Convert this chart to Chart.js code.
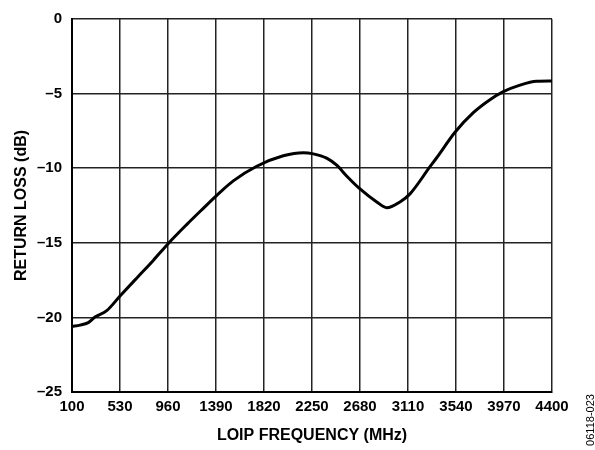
<!DOCTYPE html>
<html>
<head>
<meta charset="utf-8">
<script src="https://cdn.jsdelivr.net/npm/chart.js@4/dist/chart.umd.min.js"></script>
<style>
  html, body { margin: 0; padding: 0; background: #fff; }
  #wrap { width: 595px; height: 450px; }
</style>
</head>
<body>
<div id="wrap"><canvas id="rlChart" width="595" height="450"></canvas></div>
<script>
// LOIP return loss vs frequency
const freqMHz = [100, 172, 246, 306, 411, 530, 679, 828, 963, 1127, 1276, 1411, 1545, 1755, 1993, 2172, 2262, 2381, 2471, 2560, 2680, 2830, 2919, 3038, 3128, 3307, 3367, 3531, 3695, 3844, 3964, 4113, 4262, 4400];
const returnLoss = [-20.6, -20.52, -20.35, -19.98, -19.55, -18.57, -17.37, -16.18, -15.04, -13.78, -12.69, -11.72, -10.85, -9.87, -9.17, -8.96, -9.04, -9.33, -9.8, -10.52, -11.39, -12.26, -12.65, -12.26, -11.72, -9.9, -9.3, -7.59, -6.28, -5.41, -4.87, -4.43, -4.17, -4.15];
const xTicks = [100, 530, 960, 1390, 1820, 2250, 2680, 3110, 3540, 3970, 4400];
const yTicks = [-25, -20, -15, -10, -5, 0];

const FONT = '"Liberation Sans", Arial, sans-serif';
const ctx = document.getElementById('rlChart').getContext('2d');

// figure number on the right edge
const sideLabel = {
  id: 'sideLabel',
  afterDraw(chart) {
    const c = chart.ctx;
    c.save();
    c.translate(591, 420);
    c.rotate(-Math.PI / 2);
    c.font = '11px ' + FONT;
    c.fillStyle = '#000';
    c.textAlign = 'center';
    c.textBaseline = 'middle';
    c.fillText('06118-023', 0, 0);
    c.restore();
  }
};

const points = freqMHz.map((f, i) => ({ x: f, y: returnLoss[i] }));

new Chart(ctx, {
  type: 'line',
  data: {
    datasets: [{
      data: points,
      borderColor: '#000',
      borderWidth: 3,
      pointRadius: 0,
      fill: false,
      cubicInterpolationMode: 'monotone'
    }]
  },
  options: {
    responsive: false,
    animation: false,
    layout: { padding: { top: 9, right: 43, left: 0, bottom: 0 } },
    plugins: { legend: { display: false }, tooltip: { enabled: false } },
    scales: {
      x: {
        type: 'linear',
        min: xTicks[0],
        max: xTicks[xTicks.length - 1],
        afterBuildTicks: s => { s.ticks = xTicks.map(v => ({ value: v })); },
        afterFit: s => { s.height = 58; },
        grid: { color: '#222', lineWidth: 1.5, drawTicks: false },
        border: { color: '#000', width: 2 },
        ticks: {
          padding: 6,
          maxRotation: 0,
          autoSkip: false,
          color: '#000',
          font: { family: FONT, size: 15, weight: 'bold' },
          callback: v => String(v)
        },
        title: {
          display: true,
          text: 'LOIP FREQUENCY (MHz)',
          color: '#000',
          padding: { bottom: 5 },
          font: { family: FONT, size: 16, weight: 'bold' }
        }
      },
      y: {
        min: yTicks[0],
        max: yTicks[yTicks.length - 1],
        afterBuildTicks: s => { s.ticks = yTicks.map(v => ({ value: v })); },
        afterFit: s => { s.width = 72; },
        grid: { color: '#222', lineWidth: 1.5, drawTicks: false },
        border: { color: '#000', width: 2 },
        ticks: {
          padding: 10,
          color: '#000',
          font: { family: FONT, size: 15, weight: 'bold' },
          callback: v => v < 0 ? '\u2013' + Math.abs(v) : String(v)
        },
        title: {
          display: true,
          text: 'RETURN LOSS (dB)',
          color: '#000',
          padding: { top: 12 },
          font: { family: FONT, size: 16, weight: 'bold' }
        }
      }
    }
  },
  plugins: [sideLabel]
});
</script>
</body>
</html>
